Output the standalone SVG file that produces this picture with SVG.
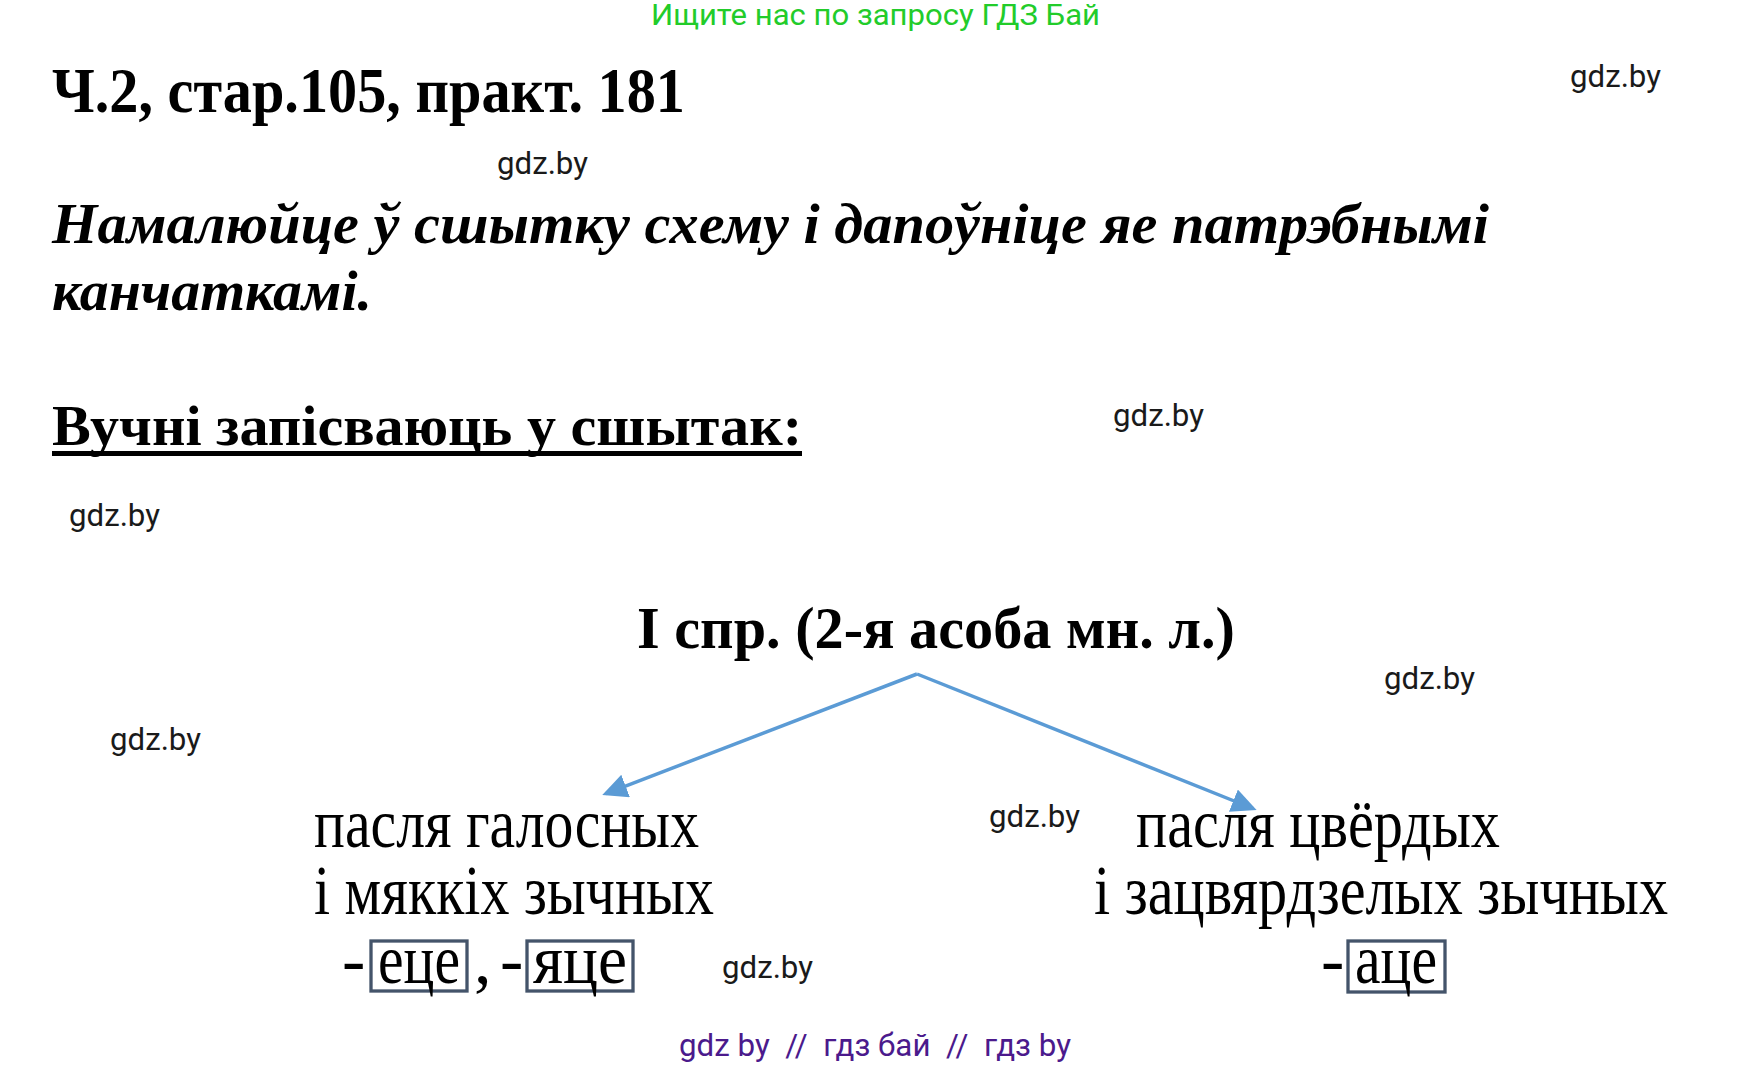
<svg xmlns="http://www.w3.org/2000/svg" width="1753" height="1071" viewBox="0 0 1753 1071">
<style>
.wm{font-family:Roboto,"Noto Sans",sans-serif;font-size:31px;fill:#1a1a1a}
.tb{font-family:"Liberation Serif",serif;font-weight:bold;fill:#000}
.tr{font-family:"Liberation Serif",serif;font-size:70px;fill:#000}
.box{fill:none;stroke:#44546a;stroke-width:3.3}
.arr{fill:none;stroke:#5b9bd5;stroke-width:3.5}
</style>
<defs>
<marker id="ah" markerUnits="userSpaceOnUse" markerWidth="26" markerHeight="26" refX="21" refY="12" orient="auto">
<path d="M0,0 L25,12 L0,24 z" fill="#5b9bd5"/>
</marker>
</defs>
<rect width="1753" height="1071" fill="#fff"/>
<text x="651" y="25" font-family="Roboto,'Noto Sans',sans-serif" font-size="30" fill="#22cc2a" textLength="449" lengthAdjust="spacingAndGlyphs">Ищите нас по запросу ГДЗ Бай</text>
<g id="watermarks">
<text class="wm" x="1570" y="87" textLength="91" lengthAdjust="spacingAndGlyphs">gdz.by</text>
<text class="wm" x="497" y="174" textLength="91" lengthAdjust="spacingAndGlyphs">gdz.by</text>
<text class="wm" x="1113" y="426" textLength="91" lengthAdjust="spacingAndGlyphs">gdz.by</text>
<text class="wm" x="69" y="526" textLength="91" lengthAdjust="spacingAndGlyphs">gdz.by</text>
<text class="wm" x="1384" y="689" textLength="91" lengthAdjust="spacingAndGlyphs">gdz.by</text>
<text class="wm" x="110" y="750" textLength="91" lengthAdjust="spacingAndGlyphs">gdz.by</text>
<text class="wm" x="989" y="827" textLength="91" lengthAdjust="spacingAndGlyphs">gdz.by</text>
<text class="wm" x="722" y="978" textLength="91" lengthAdjust="spacingAndGlyphs">gdz.by</text>
</g>
<g id="title">
<text class="tb" x="52" y="112" font-size="63" textLength="633" lengthAdjust="spacingAndGlyphs">Ч.2, стар.105, практ. 181</text>
</g>
<g id="task">
<text class="tb" x="52" y="243" font-size="58" font-style="italic" textLength="1437" lengthAdjust="spacingAndGlyphs">Намалюйце ў сшытку схему і дапоўніце яе патрэбнымі</text>
<text class="tb" x="52" y="310" font-size="58" font-style="italic" textLength="320" lengthAdjust="spacingAndGlyphs">канчаткамі.</text>
</g>
<g id="heading">
<text class="tb" x="52" y="445" font-size="56" textLength="750" lengthAdjust="spacingAndGlyphs">Вучні запісваюць у сшытак:</text>
<rect x="52" y="451" width="750" height="5" fill="#000"/>
</g>
<g id="root">
<text class="tb" x="637" y="648" font-size="60" textLength="598" lengthAdjust="spacingAndGlyphs">І спр. (2-я асоба мн. л.)</text>
</g>
<g id="connectors">
<path class="arr" d="M917,674 L606,793.6" marker-end="url(#ah)"/>
<path class="arr" d="M917,674 L1252.9,808.5" marker-end="url(#ah)"/>
</g>
<g id="left">
<text class="tr" x="314" y="847" textLength="385" lengthAdjust="spacingAndGlyphs">пасля галосных</text>
<text class="tr" x="314" y="914" textLength="400" lengthAdjust="spacingAndGlyphs">і мяккіх зычных</text>
<text class="tr" x="342" y="983">-</text>
<rect class="box" x="371" y="941" width="96" height="50"/>
<text class="tr" x="378" y="983" textLength="82" lengthAdjust="spacingAndGlyphs">еце</text>
<text class="tr" x="474" y="983">,</text>
<text class="tr" x="500" y="983">-</text>
<rect class="box" x="527" y="941" width="106" height="50"/>
<text class="tr" x="533" y="983" textLength="94" lengthAdjust="spacingAndGlyphs">яце</text>
</g>
<g id="right">
<text class="tr" x="1136" y="847" textLength="364" lengthAdjust="spacingAndGlyphs">пасля цвёрдых</text>
<text class="tr" x="1094" y="914" textLength="574" lengthAdjust="spacingAndGlyphs">і зацвярдзелых зычных</text>
<text class="tr" x="1321" y="983">-</text>
<rect class="box" x="1348" y="941" width="97" height="51"/>
<text class="tr" x="1355" y="983" textLength="82" lengthAdjust="spacingAndGlyphs">аце</text>
</g>
<text x="679" y="1056" font-family="Roboto,'Noto Sans',sans-serif" font-size="31" fill="#4b1a8c" textLength="392" lengthAdjust="spacingAndGlyphs" xml:space="preserve">gdz by  //  гдз бай  //  гдз by</text>
</svg>
